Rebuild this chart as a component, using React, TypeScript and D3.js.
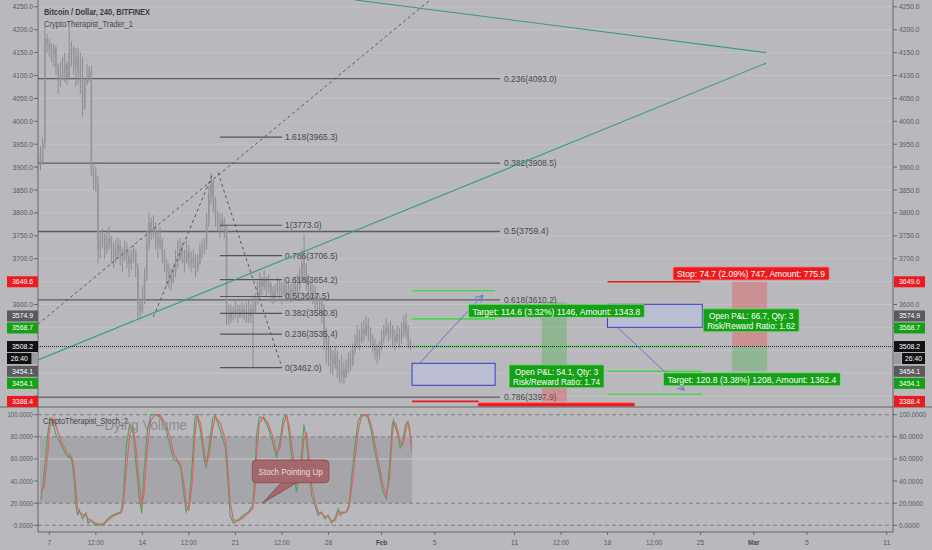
import React, { useEffect, useRef } from "react";
import * as d3 from "d3";

// 4h candles, first bar Jan 6 2019 08:00 UTC
const candleClose = [
  3910, 3955, 4180, 4170, 4155, 4145, 4160, 4120, 4100, 4090, 4110, 4125,
  4095, 4150, 4160, 4120, 4140, 4110, 4100, 4030, 4080, 4095, 4110, 3890,
  3880, 3860, 3720, 3740, 3750, 3720, 3735, 3745, 3725, 3700, 3715, 3730,
  3710, 3700, 3720, 3705, 3690, 3700, 3715, 3680, 3600, 3585, 3610, 3660,
  3730, 3780, 3760, 3770, 3745, 3730, 3740, 3710, 3690, 3670, 3660, 3650,
  3670, 3690, 3700, 3720, 3705, 3690, 3715, 3700, 3690, 3700, 3680, 3690,
  3720, 3720, 3730, 3780, 3840, 3870, 3830, 3790, 3780, 3770, 3785, 3770,
  3580, 3570, 3585, 3580, 3590, 3575, 3585, 3590, 3580, 3585, 3575, 3590,
  3585, 3600, 3620, 3650, 3640, 3655, 3635, 3645, 3625, 3615, 3630, 3640,
  3630, 3625, 3640, 3620, 3635, 3625, 3630, 3640, 3635, 3660, 3690, 3680,
  3650, 3640, 3630, 3620, 3610, 3600, 3605, 3595, 3540, 3520, 3500, 3480,
  3470, 3490, 3460, 3445, 3455, 3440, 3460, 3480, 3470, 3500, 3515, 3530,
  3520, 3545, 3535, 3555, 3540, 3520, 3510, 3500, 3490, 3505, 3525, 3540,
  3550, 3535, 3545, 3530, 3520, 3535, 3525, 3540, 3560, 3545, 3520, 3508,
];
const candleHigh = [
  3945, 3964, 4207, 4190, 4180, 4170, 4170, 4165, 4125, 4130, 4140, 4150,
  4130, 4205, 4175, 4165, 4160, 4160, 4150, 4140, 4090, 4125, 4120, 4120,
  3905, 3900, 3880, 3760, 3765, 3755, 3760, 3770, 3750, 3735, 3740, 3745,
  3740, 3725, 3740, 3735, 3720, 3720, 3730, 3720, 3690, 3610, 3640, 3680,
  3760, 3800, 3790, 3795, 3780, 3760, 3770, 3745, 3720, 3700, 3690, 3680,
  3690, 3720, 3740, 3745, 3735, 3720, 3740, 3730, 3715, 3720, 3710, 3710,
  3735, 3740, 3745, 3800, 3860, 3886, 3875, 3835, 3805, 3800, 3800, 3790,
  3775, 3600, 3600, 3595, 3610, 3600, 3600, 3605, 3600, 3605, 3610, 3600,
  3620, 3625, 3650, 3670, 3660, 3675, 3660, 3665, 3650, 3640, 3645, 3660,
  3655, 3650, 3660, 3650, 3650, 3645, 3650, 3660, 3665, 3680, 3720, 3752,
  3690, 3665, 3655, 3645, 3640, 3625, 3620, 3615, 3600, 3550, 3530, 3510,
  3500, 3510, 3500, 3480, 3490, 3475, 3480, 3495, 3500, 3515, 3535, 3555,
  3545, 3560, 3565, 3575, 3570, 3550, 3535, 3525, 3515, 3520, 3545, 3555,
  3570, 3560, 3565, 3555, 3545, 3555, 3550, 3560, 3575, 3581, 3555, 3525,
];
const candleLow = [
  3892, 3905, 3940, 4150, 4140, 4130, 4120, 4100, 4060, 4075, 4090, 4085,
  4080, 4090, 4120, 4100, 4075, 4080, 4060, 4010, 4025, 4080, 4085, 3880,
  3850, 3845, 3690, 3700, 3725, 3700, 3710, 3720, 3690, 3680, 3690, 3700,
  3685, 3670, 3695, 3680, 3660, 3675, 3690, 3660, 3570, 3570, 3580, 3600,
  3650, 3720, 3740, 3745, 3720, 3700, 3720, 3690, 3670, 3640, 3635, 3630,
  3645, 3660, 3680, 3695, 3690, 3670, 3690, 3680, 3670, 3680, 3660, 3670,
  3685, 3700, 3710, 3720, 3770, 3820, 3800, 3770, 3760, 3745, 3760, 3745,
  3555, 3555, 3560, 3565, 3570, 3560, 3570, 3570, 3565, 3560, 3560, 3560,
  3462, 3580, 3600, 3615, 3620, 3630, 3615, 3625, 3605, 3600, 3605, 3620,
  3610, 3600, 3615, 3605, 3610, 3605, 3610, 3620, 3615, 3630, 3650, 3650,
  3630, 3620, 3610, 3600, 3590, 3585, 3580, 3560, 3500, 3470, 3465, 3450,
  3445, 3460, 3440, 3430, 3428, 3428, 3440, 3450, 3455, 3465, 3490, 3505,
  3500, 3515, 3520, 3530, 3520, 3505, 3495, 3480, 3470, 3480, 3500, 3515,
  3530, 3520, 3525, 3510, 3500, 3515, 3505, 3515, 3530, 3525, 3505, 3500,
];
const firstOpen = 3925;

// stochastic, sampled in days after Jan 7
const stochDays = [
  -0.62, -0.38, -0.12, 0.05, 0.25, 0.5, 0.88, 1.25, 1.5, 1.57,
  1.7, 1.87, 2.0, 2.13, 2.25, 2.5, 2.75, 2.92, 3.13, 3.37,
  3.75, 4.12, 4.38, 4.75, 5.13, 5.38, 5.55, 5.8, 6.05, 6.3,
  6.5, 6.75, 6.95, 7.12, 7.38, 7.63, 8.0, 8.38, 8.75, 9.13,
  9.38, 9.63, 9.88, 10.13, 10.3, 10.5, 10.75, 10.95, 11.13, 11.38,
  11.63, 11.8, 12.0, 12.3, 12.5, 12.88, 13.25, 13.4, 13.6, 13.85,
  14.23, 14.6, 14.98, 15.3, 15.48, 15.6, 15.8, 16.1, 16.48, 16.85,
  17.1, 17.36, 17.6, 17.85, 18.05, 18.35, 18.6, 18.9, 19.16, 19.35,
  19.55, 19.73, 19.98, 20.23, 20.48, 20.73, 20.98, 21.23, 21.48, 21.73,
  21.9, 22.1, 22.35, 22.55, 22.73, 22.98, 23.23, 23.48, 23.73, 23.98,
  24.23, 24.48, 24.86, 25.1, 25.36, 25.6, 25.8, 25.9, 26.06, 26.23,
  26.4, 26.6, 26.8, 26.98, 27.1, 27.26,
];
const stochK = [
  23, 48, 82, 97, 94, 82, 73, 64, 61, 64,
  58, 42, 18, 9, 14, 6, 11, 2, 5, 1,
  0, 2, 6, 9, 11, 12, 24, 73, 91, 85,
  58, 27, 11, 48, 85, 100, 100, 97, 88, 70,
  59, 58, 52, 27, 12, 18, 55, 97, 100, 85,
  61, 52, 70, 97, 99, 85, 70, 45, 9, 2,
  5, 9, 12, 18, 48, 82, 98, 97, 88, 73,
  61, 76, 97, 100, 82, 48, 30, 55, 91, 76,
  48, 27, 18, 9, 12, 6, 9, 2, 6, 15,
  9, 12, 12, 18, 42, 70, 94, 100, 100, 97,
  85, 67, 45, 30, 24, 55, 91, 95, 88, 82,
  70, 76, 91, 94, 85, 73,
];
const stochD = [
  30, 35, 65, 90, 97, 90, 76, 68, 62, 62,
  61, 52, 32, 15, 12, 10, 9, 6, 4, 3,
  1, 1, 4, 8, 10, 11, 16, 50, 82, 89,
  72, 42, 18, 28, 70, 95, 100, 99, 92, 78,
  64, 59, 55, 38, 18, 14, 38, 80, 99, 92,
  70, 56, 62, 88, 98, 92, 77, 58, 22, 5,
  4, 7, 11, 15, 32, 65, 92, 98, 92, 79,
  66, 70, 90, 99, 90, 62, 38, 45, 78, 84,
  60, 36, 22, 12, 11, 8, 8, 4, 4, 11,
  12, 11, 12, 16, 32, 58, 85, 98, 100, 99,
  90, 75, 52, 36, 27, 42, 80, 92, 92, 85,
  75, 73, 85, 93, 89, 67,
];

const priceTicks = [4250, 4200, 4150, 4100, 4050, 4000, 3950, 3900, 3850, 3800, 3750, 3700, 3650, 3600, 3550, 3500, 3450, 3400];
const stochTicks = [100, 80, 60, 40, 20, 0];
const timeTicks = [
  "2019-01-07T00:00Z", "2019-01-10T12:00Z", "2019-01-14T00:00Z", "2019-01-17T12:00Z",
  "2019-01-21T00:00Z", "2019-01-24T12:00Z", "2019-01-28T00:00Z", "2019-02-01T00:00Z",
  "2019-02-05T00:00Z", "2019-02-11T00:00Z", "2019-02-14T12:00Z", "2019-02-18T00:00Z",
  "2019-02-21T12:00Z", "2019-02-25T00:00Z", "2019-03-01T00:00Z", "2019-03-05T00:00Z",
  "2019-03-11T00:00Z",
];
const timeLabels = ["7", "12:00", "14", "12:00", "21", "12:00", "28", "Feb", "5", "11", "12:00", "18", "12:00", "25", "Mar", "5", "11"];

const bigFibRatios = ["0.236", "0.382", "0.5", "0.618", "0.786"];
const bigFibPrices = [4093.0, 3908.5, 3759.4, 3610.2, 3397.9];
const smallFibRatios = ["1.618", "1", "0.786", "0.618", "0.5", "0.382", "0.236", "0"];
const smallFibPrices = [3965.3, 3773.0, 3706.5, 3654.2, 3617.5, 3580.8, 3535.4, 3462.0];

const badgePrices = [3649.6, 3574.9, 3568.7, 3508.2, 3454.1, 3454.1, 3388.4];
const badgeKinds = ["stop", "entry", "target", "last", "entry", "target", "stop"];

// drawn lines: [day, price] pairs
const dashedLines = [
  [[-0.85, 3557], [28.65, 4265]],
  [[7.83, 3573], [12.29, 3885]],
  [[12.69, 3888], [17.49, 3464]],
];
const tealLines = [
  [[-0.85, 3479], [53.93, 4127]],
  [[23.0, 4265], [53.93, 4150]],
];

const W = 932, H = 550;
const FONT = "'Liberation Sans', Arial, sans-serif";
const BG = "#b9b9bd";
const GREEN = "#16a016";
const RED = "#ec1a1e";

const App: React.FC = () => {
  const ref = useRef<SVGSVGElement | null>(null);

  useEffect(() => {
    if (!ref.current) return;
    document.body.style.margin = "0";
    const svg = d3.select(ref.current);
    svg.selectAll("*").remove();

    const L = 38, R = 893, mainB = 406.5, stochT = 407.5, axisY = 532;
    const t0 = Date.UTC(2019, 0, 7);
    const dayDate = (d: number) => new Date(t0 + d * 864e5);
    const x = d3.scaleUtc().domain([dayDate(0), new Date(Date.UTC(2019, 2, 11))]).range([49.3, 886.7]);
    const xd = (d: number) => x(dayDate(d));
    const y = d3.scaleLinear().domain([3400, 4250]).range([396.1, 6.8]);
    const ys = d3.scaleLinear().domain([0, 100]).range([525.3, 414.7]);

    const defs = svg.append("defs");
    defs.append("clipPath").attr("id", "clipMain").append("rect")
      .attr("x", L).attr("y", 0).attr("width", R - L).attr("height", mainB);
    defs.append("clipPath").attr("id", "clipStoch").append("rect")
      .attr("x", L).attr("y", stochT).attr("width", R - L).attr("height", axisY - stochT);
    defs.append("marker").attr("id", "arr").attr("viewBox", "0 0 8 8")
      .attr("refX", 7).attr("refY", 4).attr("markerWidth", 8).attr("markerHeight", 8)
      .attr("orient", "auto").attr("markerUnits", "userSpaceOnUse")
      .append("path").attr("d", "M0,0L7,4L0,8").attr("fill", "none")
      .attr("stroke", "#6474d6").attr("stroke-width", 1);

    svg.append("rect").attr("width", W).attr("height", H).attr("fill", BG);

    const txt = (g: any, s: string, tx: number, ty: number, o: any = {}) => {
      const t = g.append("text").attr("x", tx).attr("y", ty)
        .attr("font-family", FONT).attr("font-size", o.size ?? 8)
        .attr("fill", o.fill ?? "#5a5a5e").attr("text-anchor", o.anchor ?? "start")
        .attr("dominant-baseline", "central").text(s);
      if (o.weight) t.attr("font-weight", o.weight);
      if (o.w) t.attr("textLength", o.w).attr("lengthAdjust", "spacingAndGlyphs");
      return t;
    };
    const hline = (g: any, d0: number, d1: number, p: number, color: string, sw = 1, dash?: string) => {
      const l = g.append("line").attr("x1", xd(d0)).attr("x2", xd(d1))
        .attr("y1", y(p)).attr("y2", y(p)).attr("stroke", color).attr("stroke-width", sw);
      if (dash) l.attr("stroke-dasharray", dash);
      return l;
    };

    // ---------- main pane ----------
    const main = svg.append("g").attr("clip-path", "url(#clipMain)");
    priceTicks.forEach((p) => {
      main.append("line").attr("x1", L).attr("x2", R).attr("y1", y(p)).attr("y2", y(p))
        .attr("stroke", "#c3c3c7").attr("stroke-width", 1);
    });

    // large fib retracement
    bigFibPrices.forEach((p, i) => {
      hline(main, -2, 33.91, p, "#5e5e62", 1.3);
      const s = `${bigFibRatios[i]}(${p.toFixed(1)})`;
      txt(main, s, xd(33.91) + 4, y(p), { size: 9, w: s.length * 4.05, fill: "#4a4a4e" });
    });

    // candles
    const barX = (i: number) => x(new Date(Date.UTC(2019, 0, 6, 8) + i * 4 * 3600e3));
    const candles = main.append("g");
    candleClose.forEach((c, i) => {
      const o = i === 0 ? firstOpen : candleClose[i - 1];
      const cx = barX(i);
      candles.append("line").attr("x1", cx).attr("x2", cx)
        .attr("y1", y(candleHigh[i])).attr("y2", y(candleLow[i]))
        .attr("stroke", "#8d8d91").attr("stroke-width", 1);
      const top = y(Math.max(o, c));
      candles.append("rect").attr("x", cx - 0.8).attr("width", 1.6)
        .attr("y", top).attr("height", Math.max(1, y(Math.min(o, c)) - top))
        .attr("fill", "#96969a");
    });

    // small fib extension
    smallFibPrices.forEach((p, i) => {
      hline(main, 12.84, 17.51, p, "#555559", 1.2);
      const s = `${smallFibRatios[i]}(${p.toFixed(1)})`;
      txt(main, s, xd(17.51) + 3, y(p), { size: 9, w: s.length * 4.05, fill: "#4a4a4e" });
    });

    dashedLines.forEach((ln) => {
      main.append("line").attr("x1", xd(ln[0][0])).attr("y1", y(ln[0][1]))
        .attr("x2", xd(ln[1][0])).attr("y2", y(ln[1][1]))
        .attr("stroke", "#58585c").attr("stroke-width", 1).attr("stroke-dasharray", "3,3");
    });
    tealLines.forEach((ln) => {
      main.append("line").attr("x1", xd(ln[0][0])).attr("y1", y(ln[0][1]))
        .attr("x2", xd(ln[1][0])).attr("y2", y(ln[1][1]))
        .attr("stroke", "#3a9a84").attr("stroke-width", 1.1);
    });

    // position tools: P&L columns
    const col = (d0: number, d1: number, p0: number, p1: number, fill: string) =>
      main.append("rect").attr("x", xd(d0)).attr("width", xd(d1) - xd(d0))
        .attr("y", y(Math.max(p0, p1))).attr("height", Math.abs(y(p0) - y(p1))).attr("fill", fill);
    col(37.05, 38.93, 3605, 3454.1, "rgba(70,175,70,0.35)");
    col(37.05, 38.93, 3454.1, 3388.4, "rgba(235,70,70,0.35)");
    col(51.37, 54.0, 3649.6, 3508.2, "rgba(235,70,70,0.35)");
    col(51.37, 54.0, 3508.2, 3454.1, "rgba(70,175,70,0.35)");

    // rectangles
    const box = (d0: number, d1: number, p0: number, p1: number) =>
      main.append("rect").attr("x", xd(d0)).attr("width", xd(d1) - xd(d0))
        .attr("y", y(p0)).attr("height", y(p1) - y(p0))
        .attr("fill", "rgba(190,195,235,0.45)").attr("stroke", "#3a3ad0").attr("stroke-width", 1);
    box(27.29, 33.54, 3471.6, 3423.6);
    box(41.99, 49.13, 3600.4, 3550.2);

    // target / stop lines
    hline(main, 27.29, 33.54, 3630.1, "#4fd34f", 1.6);
    hline(main, 27.29, 33.54, 3568.7, "#4fd34f", 1.6);
    hline(main, 27.29, 49.13, 3508.2, "#4fd34f", 1.6);
    hline(main, 41.99, 49.13, 3454.1, "#4fd34f", 1.6);
    hline(main, 41.99, 49.13, 3404.0, "#4fd34f", 1.6);
    hline(main, 27.29, 32.3, 3388.4, RED, 1.6);
    hline(main, 41.99, 48.97, 3649.6, RED, 1.6);

    // current price
    main.append("line").attr("x1", L).attr("x2", R).attr("y1", y(3508.2)).attr("y2", y(3508.2))
      .attr("stroke", "#252528").attr("stroke-width", 1).attr("stroke-dasharray", "1,1");

    // arrows
    const arrow = (a: number[], b: number[]) =>
      main.append("line").attr("x1", xd(a[0])).attr("y1", y(a[1]))
        .attr("x2", xd(b[0])).attr("y2", y(b[1]))
        .attr("stroke", "#6474d6").attr("stroke-width", 1).attr("marker-end", "url(#arr)");
    arrow([27.89, 3472.5], [32.61, 3620.3]);
    arrow([42.69, 3551.5], [47.76, 3413.3]);

    // labels of the position tools
    const tag = (d0: number, pMid: number, w: number, lines: string[], fill: string, stroke: string) => {
      const bx = xd(d0), cy = y(pMid), h = lines.length * 10 + 3;
      main.append("rect").attr("x", bx).attr("y", cy - h / 2).attr("width", w).attr("height", h)
        .attr("rx", 1.5).attr("fill", fill).attr("stroke", stroke).attr("stroke-width", 0.8);
      lines.forEach((s, k) => {
        txt(main, s, bx + w / 2, cy - (lines.length - 1) * 5 + k * 10 + 0.5,
          { size: 9.5, w: s.length * (w - 8) / Math.max(...lines.map((q) => q.length)), anchor: "middle", fill: "#ffffff" });
      });
    };
    tag(31.53, 3586.2, 176, ["Target: 114.6 (3.32%) 1146, Amount: 1343.8"], GREEN, "#86d886");
    tag(34.59, 3443.2, 95, ["Open P&L: 54.1, Qty: 3", "Risk/Reward Ratio: 1.74"], GREEN, "#86d886");
    tag(46.93, 3667.7, 156, ["Stop: 74.7 (2.09%) 747, Amount: 775.9"], RED, "#f07a7a");
    tag(49.19, 3565.5, 96, ["Open P&L: 66.7, Qty: 3", "Risk/Reward Ratio: 1.62"], GREEN, "#86d886");
    tag(46.2, 3436.7, 177, ["Target: 120.8 (3.38%) 1208, Amount: 1362.4"], GREEN, "#86d886");
    tag(32.24, 3371.4, 157, ["Stop: 65.7 (1.91%) 657, Amount: 826.8"], RED, "#f07a7a");

    // header
    txt(svg, "Bitcoin / Dollar, 240, BITFINEX", 44, 12, { size: 8.5, w: 106, fill: "#3a3a3e", weight: "bold" });
    txt(svg, "CryptoTherapist_Trader_1", 44, 24, { size: 8.5, w: 89, fill: "#4a4a4e" });

    // ---------- stochastic pane ----------
    const st = svg.append("g").attr("clip-path", "url(#clipStoch)");
    st.append("rect").attr("x", xd(-0.7)).attr("width", xd(27.3) - xd(-0.7))
      .attr("y", ys(80)).attr("height", ys(20) - ys(80)).attr("fill", "#a6a6aa");
    st.append("line").attr("x1", L).attr("x2", R).attr("y1", ys(60)).attr("y2", ys(60))
      .attr("stroke", "#c6c6ca").attr("stroke-width", 1);
    [100, 80, 20, 0].forEach((v) => {
      st.append("line").attr("x1", L).attr("x2", R).attr("y1", ys(v)).attr("y2", ys(v))
        .attr("stroke", "#7c7c80").attr("stroke-width", 1).attr("stroke-dasharray", "4,3");
    });
    const sline = d3.line<number>().x((_, i) => xd(stochDays[i])).y((v) => ys(v));
    st.append("path").datum(stochK).attr("d", sline).attr("fill", "none")
      .attr("stroke", "#55a064").attr("stroke-width", 1.2);
    st.append("path").datum(stochD).attr("d", sline).attr("fill", "none")
      .attr("stroke", "#de6266").attr("stroke-width", 1.2);

    txt(svg, "CryptoTherapist_Stoch_2", 43, 421, { size: 8.5, w: 85, fill: "#444448" });
    txt(svg, "-Dying Volume", 100, 424, { size: 15, w: 87, fill: "#8a8a8e" });

    // callout
    const ax = xd(16.03), ay = ys(20);
    const bx0 = xd(15.27), bx1 = xd(21.04), by0 = ys(59), by1 = ys(38.5);
    st.append("path").attr("d", `M${bx0 + 30},${by1 - 1}L${bx0 + 46},${by1 - 1}L${ax},${ay}Z`)
      .attr("fill", "#a2686b").attr("stroke", "#8a4448").attr("stroke-width", 0.8);
    st.append("rect").attr("x", bx0).attr("y", by0).attr("width", bx1 - bx0).attr("height", by1 - by0)
      .attr("rx", 4).attr("fill", "#a2686b").attr("stroke", "#8a4448").attr("stroke-width", 0.8);
    st.append("path").attr("d", `M${bx0 + 30.5},${by1 - 1.2}L${bx0 + 45.5},${by1 - 1.2}`)
      .attr("stroke", "#a2686b").attr("stroke-width", 1.6);
    txt(st, "Stoch Pointing Up", (bx0 + bx1) / 2, (by0 + by1) / 2, { size: 9.5, w: 64, anchor: "middle", fill: "#ecdcdc" });

    // ---------- frame and axes ----------
    const axisCol = "#66666a";
    svg.append("line").attr("x1", L).attr("x2", L).attr("y1", 0).attr("y2", axisY).attr("stroke", axisCol);
    svg.append("line").attr("x1", R).attr("x2", R).attr("y1", 0).attr("y2", axisY).attr("stroke", axisCol);
    svg.append("line").attr("x1", 0).attr("x2", W).attr("y1", 407).attr("y2", 407).attr("stroke", axisCol);
    svg.append("line").attr("x1", L).attr("x2", R).attr("y1", axisY).attr("y2", axisY).attr("stroke", axisCol);

    // price badges, pushed apart where they collide
    const kindColor: Record<string, string> = { stop: RED, entry: "#5b5b5f", target: GREEN, last: "#111114" };
    const items: { s: string; c: string; y: number; timer?: boolean }[] = [];
    let lastY = -100;
    badgePrices.forEach((p, i) => {
      const by = Math.max(y(p), lastY + 12);
      items.push({ s: p.toFixed(1), c: kindColor[badgeKinds[i]], y: by });
      lastY = by;
      if (badgeKinds[i] === "last") {
        lastY = by + 12;
        items.push({ s: "26:40", c: "#111114", y: lastY, timer: true });
      }
    });

    priceTicks.forEach((p) => {
      svg.append("line").attr("x1", 34).attr("x2", L).attr("y1", y(p)).attr("y2", y(p)).attr("stroke", axisCol);
      svg.append("line").attr("x1", R).attr("x2", R + 4).attr("y1", y(p)).attr("y2", y(p)).attr("stroke", axisCol);
      // labels that sit under a badge are hidden, as on the reference
      if (items.some((b) => Math.abs(b.y - y(p)) < 9.5)) return;
      const s = p.toFixed(1);
      txt(svg, s, 33, y(p), { size: 8, w: 20.5, anchor: "end" });
      txt(svg, s, 899, y(p), { size: 8, w: 20.5 });
    });
    stochTicks.forEach((v) => {
      const s = v.toFixed(4);
      txt(svg, s, 33, ys(v), { size: 8, w: s.length * 3.2, anchor: "end" });
      txt(svg, s, 899, ys(v), { size: 8, w: s.length * 3.4 });
      svg.append("line").attr("x1", 34).attr("x2", L).attr("y1", ys(v)).attr("y2", ys(v)).attr("stroke", axisCol);
      svg.append("line").attr("x1", R).attr("x2", R + 4).attr("y1", ys(v)).attr("y2", ys(v)).attr("stroke", axisCol);
    });
    timeTicks.forEach((t, i) => {
      const tx = x(new Date(t));
      const s = timeLabels[i];
      svg.append("line").attr("x1", tx).attr("x2", tx).attr("y1", axisY).attr("y2", axisY + 3).attr("stroke", axisCol);
      const bold = s === "Feb" || s === "Mar";
      txt(svg, s, tx, 542, { size: 8, w: s.length * (s.includes(":") ? 3.2 : 3.8), anchor: "middle", weight: bold ? "bold" : undefined, fill: bold ? "#4a4a4e" : "#5a5a5e" });
    });

    items.forEach((b) => {
      if (b.timer) {
        svg.append("rect").attr("x", 894).attr("y", b.y - 5.5).attr("width", 7).attr("height", 11).attr("fill", "#9c9ca0");
        svg.append("rect").attr("x", 902).attr("y", b.y - 5.5).attr("width", 23).attr("height", 11).attr("fill", b.c);
        txt(svg, b.s, 913.5, b.y, { size: 8, w: 17, anchor: "middle", fill: "#ffffff" });
        svg.append("rect").attr("x", 32).attr("y", b.y - 5.5).attr("width", 6).attr("height", 11).attr("fill", "#9c9ca0");
        svg.append("rect").attr("x", 7).attr("y", b.y - 5.5).attr("width", 24.5).attr("height", 11).attr("fill", b.c);
        txt(svg, b.s, 19.3, b.y, { size: 8, w: 17, anchor: "middle", fill: "#ffffff" });
      } else {
        svg.append("rect").attr("x", 894).attr("y", b.y - 5.5).attr("width", 31).attr("height", 11).attr("fill", b.c);
        txt(svg, b.s, 909.5, b.y, { size: 8, w: 21, anchor: "middle", fill: "#ffffff" });
        svg.append("rect").attr("x", 7).attr("y", b.y - 5.5).attr("width", 31).attr("height", 11).attr("fill", b.c);
        txt(svg, b.s, 22.5, b.y, { size: 8, w: 21, anchor: "middle", fill: "#ffffff" });
      }
    });
  }, []);

  return <svg ref={ref} width={W} height={H} style={{ display: "block" }}></svg>;
};

export default App;
